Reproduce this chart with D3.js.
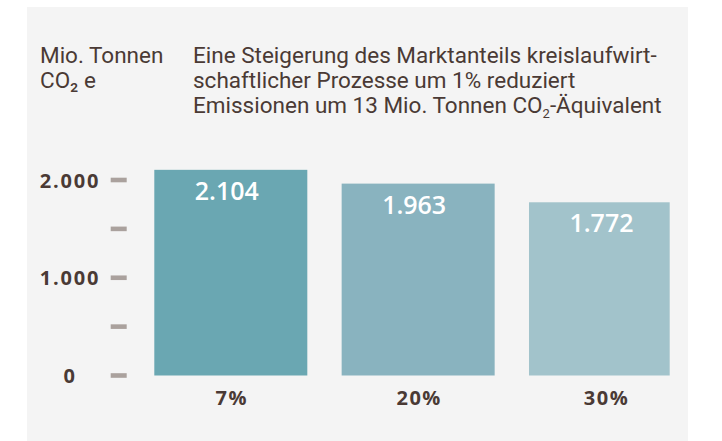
<!DOCTYPE html>
<html lang="de">
	<head>
		<meta charset="utf-8">
		<title>Kreislaufwirtschaft Emissionen</title>
		<script src="https://cdn.jsdelivr.net/npm/d3@7"></script>
		<style>
			body { margin: 0; background: #ffffff; }
		</style>
	</head>
	<body>
		<script>

			// Daten
			var categories = ["7%", "20%", "30%"];
			var values = [2104, 1963, 1772];
			var valueLabels = ["2.104", "1.963", "1.772"];
			var tickValues = [0, 500, 1000, 1500, 2000];
			var tickLabels = {0: "0", 1000: "1.000", 2000: "2.000"};
			var barColors = ["#6aa7b2", "#89b3bf", "#a2c3cb"];

			var w = 722;
			var h = 441;

			var svg = d3.select("body")
						.append("svg")
						.attr("width", w)
						.attr("height", h);

			// grauer Hintergrund
			svg.append("rect")
			   .attr("x", 27)
			   .attr("y", 7)
			   .attr("width", 661)
			   .attr("height", h - 7)
			   .attr("fill", "#f4f4f4");

			var xScale = d3.scaleBand()
						   .domain(categories)
						   .range([154.3, 682])
						   .paddingInner(0.1833)
						   .paddingOuter(0);

			var yScale = d3.scaleLinear()
						   .domain([0, 2000])
						   .range([375.5, 180]);

			// Kopfzeilen
			var textColor = "#4a3a35";
			var headFont = "Roboto, sans-serif";
			var numFont = "'Open Sans', sans-serif";

			var unit = svg.append("text")
						  .attr("x", 40)
						  .attr("y", 63)
						  .attr("font-family", headFont)
						  .attr("font-size", "22.5px")
						  .attr("fill", textColor);
			unit.append("tspan").attr("x", 40).text("Mio. Tonnen");
			unit.append("tspan").attr("x", 40).attr("dy", 25).text("CO\u2082 e");

			var title = svg.append("text")
						   .attr("x", 193)
						   .attr("y", 63)
						   .attr("font-family", headFont)
						   .attr("font-size", "22.5px")
						   .attr("fill", textColor);
			title.append("tspan").attr("x", 193).text("Eine Steigerung des Marktanteils kreislaufwirt-");
			title.append("tspan").attr("x", 193).attr("dy", 25).text("schaftlicher Prozesse um 1% reduziert");
			title.append("tspan").attr("x", 193).attr("dy", 25).text("Emissionen um 13 Mio. Tonnen CO");
			title.append("tspan").attr("dy", 5).attr("font-size", "13px").text("2");
			title.append("tspan").attr("dy", -5).text("-Äquivalent");

			// y-Achse: kurze Striche
			svg.selectAll("rect.tick")
			   .data(tickValues)
			   .enter()
			   .append("rect")
			   .attr("class", "tick")
			   .attr("x", 110.7)
			   .attr("y", function(d) { return yScale(d) - 2.3; })
			   .attr("width", 16)
			   .attr("height", 4.6)
			   .attr("fill", "#aaa19d");

			svg.selectAll("text.ylab")
			   .data(tickValues.filter(function(d) { return tickLabels[d] !== undefined; }))
			   .enter()
			   .append("text")
			   .attr("class", "ylab")
			   .attr("x", 70)
			   .attr("y", function(d) { return yScale(d) + 7.5; })
			   .attr("text-anchor", "middle")
			   .attr("font-family", numFont)
			   .attr("font-weight", 700)
			   .attr("font-size", "20px")
			   .attr("letter-spacing", "1.8px")
			   .attr("fill", textColor)
			   .text(function(d) { return tickLabels[d]; });

			// Balken
			svg.append("clipPath")
			   .attr("id", "plotclip")
			   .append("rect")
			   .attr("x", 27)
			   .attr("y", 0)
			   .attr("width", 669.7 - 27)
			   .attr("height", h);

			var data = categories.map(function(c, i) {
				return {cat: c, value: values[i], label: valueLabels[i], color: barColors[i]};
			});

			svg.append("g")
			   .attr("clip-path", "url(#plotclip)")
			   .selectAll("rect")
			   .data(data)
			   .enter()
			   .append("rect")
			   .attr("x", function(d) { return xScale(d.cat); })
			   .attr("y", function(d) { return yScale(d.value); })
			   .attr("width", xScale.bandwidth())
			   .attr("height", function(d) { return yScale(0) - yScale(d.value); })
			   .attr("fill", function(d) { return d.color; });

			svg.selectAll("text.val")
			   .data(data)
			   .enter()
			   .append("text")
			   .attr("class", "val")
			   .attr("x", function(d) { return xScale(d.cat) + xScale.bandwidth() / 2 - 4; })
			   .attr("y", function(d) { return yScale(d.value) + 30; })
			   .attr("text-anchor", "middle")
			   .attr("font-family", numFont)
			   .attr("font-weight", 600)
			   .attr("font-size", "25px")
			   .attr("fill", "#ffffff")
			   .text(function(d) { return d.label; });

			svg.selectAll("text.xlab")
			   .data(data)
			   .enter()
			   .append("text")
			   .attr("class", "xlab")
			   .attr("x", function(d) { return xScale(d.cat) + xScale.bandwidth() / 2 + 1; })
			   .attr("y", 405)
			   .attr("text-anchor", "middle")
			   .attr("font-family", numFont)
			   .attr("font-weight", 700)
			   .attr("font-size", "20px")
			   .attr("letter-spacing", "1.5px")
			   .attr("fill", textColor)
			   .text(function(d) { return d.cat; });

		</script>
	</body>
</html>
